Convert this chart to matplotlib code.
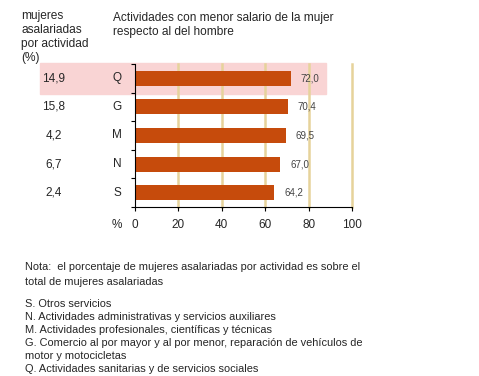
import matplotlib

matplotlib.use("Agg")
import matplotlib.pyplot as plt
from matplotlib.patches import Rectangle
from matplotlib.transforms import blended_transform_factory

# data, top to bottom as in the chart
codes = ["Q", "G", "M", "N", "S"]
share_women = ["14,9", "15,8", "4,2", "6,7", "2,4"]
salary_ratio = [72.0, 70.4, 69.5, 67.0, 64.2]
xticks = [0, 20, 40, 60, 80, 100]

note_lines = [
    "Nota:  el porcentaje de mujeres asalariadas por actividad es sobre el",
    "total de mujeres asalariadas",
]
legend_lines = [
    "S. Otros servicios",
    "N. Actividades administrativas y servicios auxiliares",
    "M. Actividades profesionales, científicas y técnicas",
    "G. Comercio al por mayor y al por menor, reparación de vehículos de",
    "motor y motocicletas",
    "Q. Actividades sanitarias y de servicios sociales",
]

BAR = "#C64B0C"
GRID = "#E6D39B"
PINK = "#F9D4D4"
INK = "#262626"
GRAY = "#444444"

plt.rcParams.update({"font.family": ["Liberation Sans", "DejaVu Sans"]})

W, H = 479, 376
fig = plt.figure(figsize=(W / 100, H / 100), dpi=100)
ax = fig.add_axes([135 / W, 1 - 207 / H, 217 / W, 143 / H])

n = len(codes)
ys = list(range(n - 1, -1, -1))
ax.barh(ys, salary_ratio, height=0.52, color=BAR, zorder=2)
ax.set_xlim(0, 100)
ax.set_ylim(-0.5, n - 0.5)

for x in xticks[1:]:
    ax.axvline(x, color=GRID, lw=1.8, zorder=1, clip_on=False)

for y, v in zip(ys, salary_ratio):
    ax.annotate(f"{v:.1f}".replace(".", ","), (v, y), xytext=(7, 0),
                textcoords="offset points", va="center", ha="left",
                fontsize=7, color=GRAY, zorder=3)

# highlighted first row, spanning the left-hand columns too
tr = blended_transform_factory(fig.transFigure, ax.transData)
ax.add_patch(Rectangle((40 / W, ys[0] - 0.56), (326 - 40) / W, 1.1,
                       transform=tr, color=PINK, zorder=0, clip_on=False))

for y, s, c in zip(ys, share_women, codes):
    fig.text(54 / W, y, s, transform=tr, ha="center", va="center",
             fontsize=8.5, color=INK)
    fig.text(117 / W, y, c, transform=tr, ha="center", va="center",
             fontsize=8.5, color=INK)

ax.set_xticks(xticks)
ax.set_yticks([i - 0.5 for i in range(n + 1)])
ax.set_yticklabels([])
ax.tick_params(axis="x", length=3, pad=6, labelsize=8.5, labelcolor=INK)
ax.tick_params(axis="y", length=3, direction="out")
for s in ("top", "right"):
    ax.spines[s].set_visible(False)
ax.spines["left"].set_zorder(4)
ax.set_facecolor("none")

fig.text(117 / W, 1 - 225 / H, "%", ha="center", va="center", fontsize=8.5, color=INK)

fig.text(21 / W, 1 - 10 / H, "mujeres\nasalariadas\npor actividad\n(%)",
         ha="left", va="top", fontsize=8.6, linespacing=1.23, color=INK)
fig.text(113 / W, 1 - 12 / H, "Actividades con menor salario de la mujer\nrespecto al del hombre",
         ha="left", va="top", fontsize=8.6, linespacing=1.2, color=INK)

fig.text(25 / W, 1 - 262 / H, "\n".join(note_lines), ha="left", va="top",
         fontsize=7.9, linespacing=1.58, color=INK)
fig.text(25 / W, 1 - 299 / H, "\n".join(legend_lines), ha="left", va="top",
         fontsize=7.9, linespacing=1.38, color=INK)

fig.savefig("out.png", dpi=100)
